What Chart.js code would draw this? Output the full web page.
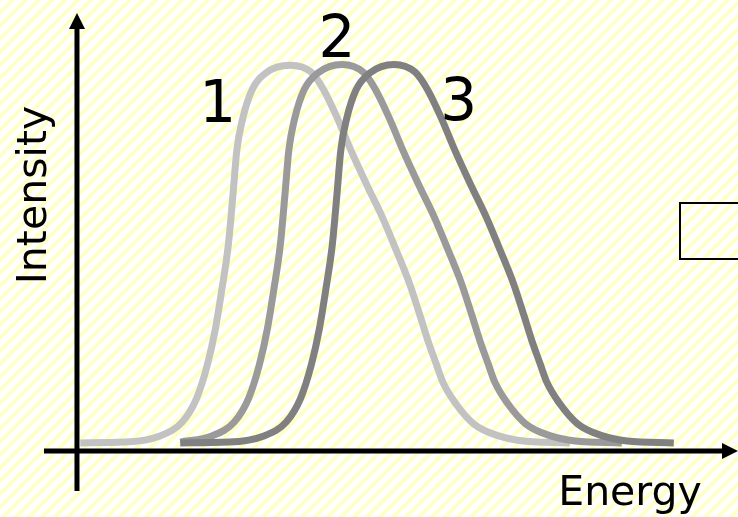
<!DOCTYPE html>
<html>
<head>
<meta charset="utf-8">
<script src="https://cdn.jsdelivr.net/npm/chart.js@4/dist/chart.umd.min.js"></script>
<style>
  html, body { margin: 0; padding: 0; background: #fff; }
  canvas { display: block; }
</style>
</head>
<body>
<canvas id="spectra" width="738" height="517"></canvas>
<script>
// three emission curves, energy in arbitrary units, intensity normalised to the peak
var curve1Energy = [0.05, 0.73, 1.26, 1.60, 1.82, 1.98, 2.10, 2.20, 2.30, 2.37, 2.43, 2.52, 2.66, 2.87, 3.24, 3.56, 3.75, 3.97, 4.16, 4.42, 4.64, 4.85, 5.05, 5.21, 5.33, 5.46, 5.56, 5.75, 6.03, 6.41, 6.78, 7.49]
var curve1Intensity = [0.021, 0.023, 0.039, 0.075, 0.137, 0.222, 0.313, 0.416, 0.533, 0.662, 0.779, 0.861, 0.934, 0.978, 0.998, 0.980, 0.934, 0.856, 0.779, 0.683, 0.605, 0.520, 0.435, 0.352, 0.287, 0.225, 0.178, 0.124, 0.070, 0.039, 0.026, 0.021]

var curve2Energy = [1.57, 2.05, 2.39, 2.61, 2.77, 2.89, 2.99, 3.09, 3.16, 3.22, 3.31, 3.45, 3.66, 4.03, 4.35, 4.54, 4.76, 4.95, 5.21, 5.43, 5.64, 5.84, 6.00, 6.12, 6.25, 6.35, 6.54, 6.82, 7.20, 7.57, 8.28]
var curve2Intensity = [0.023, 0.039, 0.075, 0.137, 0.222, 0.313, 0.416, 0.533, 0.662, 0.779, 0.861, 0.934, 0.978, 1.0, 0.980, 0.934, 0.856, 0.779, 0.683, 0.605, 0.520, 0.435, 0.352, 0.287, 0.225, 0.178, 0.124, 0.070, 0.039, 0.026, 0.021]

var curve3Energy = [1.57, 2.31, 2.84, 3.18, 3.40, 3.56, 3.68, 3.78, 3.88, 3.95, 4.01, 4.10, 4.24, 4.45, 4.82, 5.14, 5.33, 5.55, 5.74, 6.00, 6.22, 6.43, 6.63, 6.79, 6.91, 7.04, 7.14, 7.33, 7.61, 7.99, 8.36, 9.07]
var curve3Intensity = [0.021, 0.023, 0.039, 0.075, 0.137, 0.222, 0.313, 0.416, 0.533, 0.662, 0.779, 0.861, 0.934, 0.978, 1.0, 0.980, 0.934, 0.856, 0.779, 0.683, 0.605, 0.520, 0.435, 0.352, 0.287, 0.225, 0.178, 0.124, 0.070, 0.039, 0.026, 0.021]

var curveLabels = ["1", "2", "3"]
var curveColors = ["#c2c2c2", "#9a9a9a", "#808080"]
var xTitle = "Energy"
var yTitle = "Intensity"

function toPoints(xs, ys){
    var pts = new Array()
    for (var i = 0; i < xs.length; i++){
        pts.push({x: xs[i], y: ys[i]})
    }
    return pts
}

// pale yellow diagonal hatching behind everything
function stripePattern(ctx){
    var n = 13
    var tile = document.createElement("canvas")
    tile.width = n
    tile.height = n
    var t = tile.getContext("2d")
    t.fillStyle = "#ffffff"
    t.fillRect(0, 0, n, n)
    t.strokeStyle = "#ffffc8"
    t.lineWidth = 4
    for (var k = -1; k <= 1; k++){
        t.beginPath()
        t.moveTo(n * k - 2, n + 2)
        t.lineTo(n * k + n + 2, -2)
        t.stroke()
    }
    return ctx.createPattern(tile, "repeat")
}

var backdrop = {
    id: "backdrop",
    beforeDraw: function(chart){
        var ctx = chart.ctx
        ctx.save()
        ctx.fillStyle = stripePattern(ctx)
        ctx.fillRect(0, 0, chart.width, chart.height)
        ctx.restore()
    }
}

function arrowHead(ctx, x, y, dir){
    ctx.beginPath()
    if (dir == "up"){
        ctx.moveTo(x, y)
        ctx.lineTo(x - 8, y + 16)
        ctx.lineTo(x + 8, y + 16)
    } else {
        ctx.moveTo(x, y)
        ctx.lineTo(x - 16, y - 8)
        ctx.lineTo(x - 16, y + 8)
    }
    ctx.closePath()
    ctx.fill()
}

// axes with arrows, axis titles, curve numbers and the little box on the right
var decorations = {
    id: "decorations",
    afterDatasetsDraw: function(chart){
        var ctx = chart.ctx
        var xs = chart.scales.x
        var ys = chart.scales.y
        var ox = xs.getPixelForValue(0)
        var oy = ys.getPixelForValue(0)
        ctx.save()
        ctx.strokeStyle = "#000"
        ctx.fillStyle = "#000"
        ctx.lineWidth = 5
        ctx.beginPath()
        ctx.moveTo(ox, oy + 40)
        ctx.lineTo(ox, 28)
        ctx.moveTo(ox - 33, oy)
        ctx.lineTo(chart.width - 14, oy)
        ctx.stroke()
        arrowHead(ctx, ox, 13, "up")
        arrowHead(ctx, chart.width, oy, "right")

        ctx.lineWidth = 2
        ctx.strokeRect(680, 203, 100, 56)

        ctx.font = "41px 'DejaVu Sans'"
        ctx.textAlign = "center"
        ctx.textBaseline = "alphabetic"
        ctx.fillText(xTitle, 630, 505)
        ctx.save()
        ctx.translate(46, 195)
        ctx.rotate(-Math.PI / 2)
        ctx.fillText(yTitle, 0, 0)
        ctx.restore()

        ctx.font = "58px 'DejaVu Sans'"
        var labelAt = [[2.14, 0.85], [3.95, 1.02], [5.8, 0.857]]
        for (var i = 0; i < curveLabels.length; i++){
            ctx.fillText(curveLabels[i], xs.getPixelForValue(labelAt[i][0]), ys.getPixelForValue(labelAt[i][1]))
        }
        ctx.restore()
    }
}

function makeSet(label, xs, ys, color, order){
    return {
        label: label,
        data: toPoints(xs, ys),
        borderColor: color,
        borderWidth: 7,
        pointRadius: 0,
        fill: false,
        cubicInterpolationMode: "monotone",
        order: order
    }
}

var canvas = document.querySelector("#spectra")
var chart = new Chart(canvas, {
    type: "line",
    data: {
        datasets: [
            makeSet(curveLabels[0], curve1Energy, curve1Intensity, curveColors[0], 3),
            makeSet(curveLabels[1], curve2Energy, curve2Intensity, curveColors[1], 2),
            makeSet(curveLabels[2], curve3Energy, curve3Intensity, curveColors[2], 1)
        ]
    },
    options: {
        responsive: false,
        animation: false,
        layout: { padding: { left: 75, right: 3, top: 18, bottom: 66 } },
        plugins: { legend: { display: false }, tooltip: { enabled: false } },
        scales: {
            x: { type: "linear", display: false, min: -0.03, max: 10 },
            y: { type: "linear", display: false, min: 0, max: 1.12 }
        }
    },
    plugins: [backdrop, decorations]
})
</script>
</body>
</html>
